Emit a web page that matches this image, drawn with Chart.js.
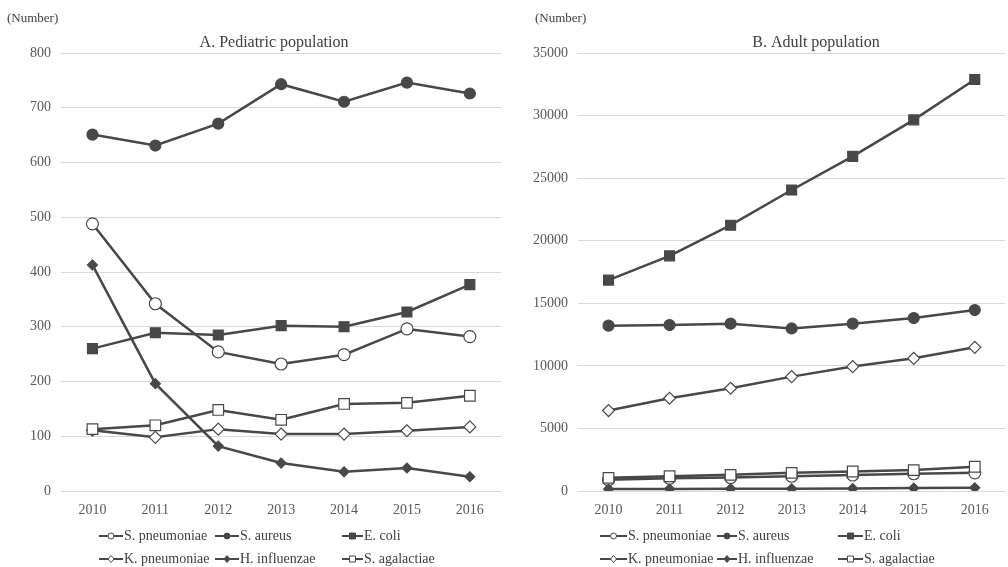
<!DOCTYPE html>
<html>
<head>
<meta charset="utf-8">
<script src="https://cdn.jsdelivr.net/npm/chart.js@4.4.1/dist/chart.umd.min.js"></script>
<style>
    html, body { margin: 0; padding: 0; background: #fff; overflow: hidden; }
    body { width: 1008px; height: 567px; position: relative; }
    canvas { position: absolute; top: 0; }
    #pediatricChart { left: 0; }
    #adultChart { left: 518px; }
</style>
</head>
<body>
<canvas id="pediatricChart" width="510" height="567"></canvas>
<canvas id="adultChart" width="496" height="567"></canvas>
<script>
// ===================================
// Datos
// ===================================
const years = ['2010', '2011', '2012', '2013', '2014', '2015', '2016'];
const seriesNames = ['S. pneumoniae', 'S. aureus', 'E. coli', 'K. pneumoniae', 'H. influenzae', 'S. agalactiae'];

// A. Pediatric population
const pedPneumoniae = [488, 342, 254, 232, 249, 296, 282];
const pedAureus = [651, 631, 671, 743, 711, 746, 726];
const pedEcoli = [260, 289, 285, 302, 300, 327, 377];
const pedKpneumoniae = [111, 98, 113, 104, 104, 110, 117];
const pedHinfluenzae = [413, 196, 82, 51, 35, 42, 26];
const pedAgalactiae = [113, 120, 148, 130, 159, 161, 174];
const pedTicks = [0, 100, 200, 300, 400, 500, 600, 700, 800];

// B. Adult population
const adPneumoniae = [900, 1020, 1080, 1180, 1280, 1380, 1450];
const adAureus = [13210, 13260, 13370, 12990, 13370, 13820, 14460];
const adEcoli = [16850, 18790, 21240, 24050, 26740, 29660, 32880];
const adKpneumoniae = [6430, 7410, 8210, 9140, 9940, 10600, 11480];
const adHinfluenzae = [150, 160, 170, 180, 190, 230, 260];
const adAgalactiae = [1050, 1180, 1290, 1450, 1560, 1670, 1940];
const adTicks = [0, 5000, 10000, 15000, 20000, 25000, 30000, 35000];

const LINE = '#484848';
const SERIF = '"Liberation Serif", "DejaVu Serif", serif';

// Estilo de marcador por serie
const markers = [
    { style: 'circle', fill: '#ffffff', radius: 6 },
    { style: 'circle', fill: LINE, radius: 5.5 },
    { style: 'rect', fill: LINE, radius: 7 },
    { style: 'rectRot', fill: '#ffffff', radius: 6 },
    { style: 'rectRot', fill: LINE, radius: 5 },
    { style: 'rect', fill: '#ffffff', radius: 7.5 }
];

function buildDatasets(values) {
    return values.map(function(data, i) {
        return {
            label: seriesNames[i],
            data: data,
            order: values.length - i,
            borderColor: LINE,
            borderWidth: 2.5,
            pointStyle: markers[i].style,
            pointRadius: markers[i].radius,
            pointBackgroundColor: markers[i].fill,
            pointBorderColor: LINE,
            pointBorderWidth: 1.2,
            tension: 0
        };
    });
}

// Dibujar marcador pequeño de la leyenda
function drawMarker(ctx, style, x, y, r, fill) {
    ctx.save();
    ctx.fillStyle = fill;
    ctx.strokeStyle = LINE;
    ctx.lineWidth = 1;
    ctx.beginPath();
    if (style === 'circle') {
        ctx.arc(x, y, r, 0, Math.PI * 2);
    } else if (style === 'rect') {
        ctx.rect(x - r, y - r, r * 2, r * 2);
    } else {
        ctx.moveTo(x, y - r - 0.5);
        ctx.lineTo(x + r, y);
        ctx.lineTo(x, y + r + 0.5);
        ctx.lineTo(x - r, y);
        ctx.closePath();
    }
    ctx.fill();
    ctx.stroke();
    ctx.restore();
}

// Plugin: título, unidad y leyenda en dos filas
const decorPlugin = {
    id: 'decor',
    afterDraw: function(chart, args, opts) {
        const ctx = chart.ctx;
        ctx.save();
        ctx.fillStyle = '#404040';
        ctx.textBaseline = 'middle';

        ctx.font = '13px ' + SERIF;
        ctx.textAlign = 'left';
        ctx.fillText('(Number)', opts.unitX, 19);

        ctx.font = '16px ' + SERIF;
        ctx.textAlign = 'center';
        ctx.fillText(opts.title, opts.titleX, 43);

        ctx.font = '14px ' + SERIF;
        ctx.textAlign = 'left';
        const rows = [536, 559];
        seriesNames.forEach(function(name, i) {
            const col = opts.cols[i % 3];
            const y = rows[Math.floor(i / 3)];
            ctx.strokeStyle = LINE;
            ctx.lineWidth = 2;
            ctx.beginPath();
            ctx.moveTo(col.x1, y);
            ctx.lineTo(col.x2, y);
            ctx.stroke();
            drawMarker(ctx, markers[i].style, (col.x1 + col.x2) / 2, y, 3, markers[i].fill);
            ctx.fillStyle = '#404040';
            ctx.fillText(name, col.x2 + 1, y);
        });
        ctx.restore();
    }
};

function makeChart(id, values, ticks, maxY, axisWidth, decor) {
    return new Chart(document.getElementById(id), {
        type: 'line',
        data: {
            labels: years,
            datasets: buildDatasets(values)
        },
        plugins: [decorPlugin],
        options: {
            responsive: false,
            animation: false,
            layout: {
                padding: { top: 53, bottom: 48, left: 0, right: 0 }
            },
            plugins: {
                legend: { display: false },
                title: { display: false },
                tooltip: { enabled: false },
                decor: decor
            },
            scales: {
                x: {
                    offset: true,
                    grid: { display: false, drawTicks: false },
                    border: { display: false },
                    ticks: {
                        color: '#595959',
                        font: { family: SERIF, size: 14 },
                        padding: 11
                    },
                    afterFit: function(scale) { scale.height = 28; }
                },
                y: {
                    min: 0,
                    max: maxY,
                    afterBuildTicks: function(scale) {
                        scale.ticks = ticks.map(function(v) { return { value: v }; });
                    },
                    grid: { color: '#d9d9d9', lineWidth: 1, drawTicks: false },
                    border: { display: false },
                    ticks: {
                        color: '#595959',
                        font: { family: SERIF, size: 14 },
                        padding: 10,
                        callback: function(value) { return String(value); }
                    },
                    afterFit: function(scale) { scale.width = axisWidth; }
                }
            }
        }
    });
}

makeChart('pediatricChart',
    [pedPneumoniae, pedAureus, pedEcoli, pedKpneumoniae, pedHinfluenzae, pedAgalactiae],
    pedTicks, 800, 61,
    {
        title: 'A. Pediatric population',
        titleX: 274,
        unitX: 7,
        cols: [{ x1: 99, x2: 123 }, { x1: 215, x2: 239 }, { x1: 342, x2: 363 }]
    });

makeChart('adultChart',
    [adPneumoniae, adAureus, adEcoli, adKpneumoniae, adHinfluenzae, adAgalactiae],
    adTicks, 35000, 60,
    {
        title: 'B. Adult population',
        titleX: 298,
        unitX: 17,
        cols: [{ x1: 82, x2: 109 }, { x1: 199, x2: 219 }, { x1: 320, x2: 345 }]
    });
</script>
</body>
</html>
